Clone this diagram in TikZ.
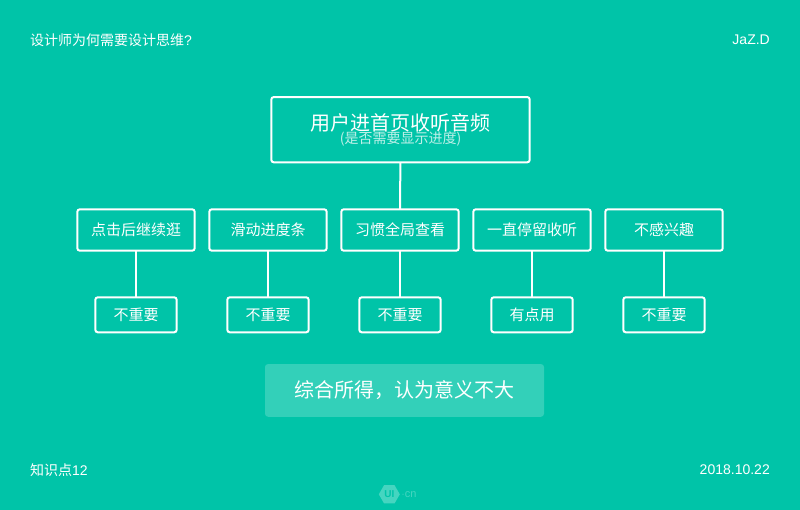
\documentclass[tikz,border=0pt]{standalone}
\usepackage{fontspec}
\setmainfont{Liberation Sans}
\newfontfamily\cjk{Noto Sans CJK SC}
\usetikzlibrary{shapes.geometric}
\definecolor{bgcol}{HTML}{00C4A8}
\definecolor{sumcol}{HTML}{33D0B9}
\definecolor{subcol}{HTML}{BFF0E9}
\definecolor{logocol}{HTML}{45D5C0}
\tikzset{
        box/.style={draw=white,line width=2pt,rounded corners=2.5pt,text=white,outer sep=0pt,inner sep=0pt},
        rowa/.style={box,minimum width=117.4pt,minimum height=41.4pt,font=\cjk\fontsize{15}{18}\selectfont},
        rowb/.style={box,minimum width=81.4pt,minimum height=35pt,font=\cjk\fontsize{15}{18}\selectfont},
        corner/.style={text=white,inner sep=0pt,font=\fontsize{14}{17}\selectfont},
        link/.style={draw=white,line width=2pt}
}

\begin{document}
\begin{tikzpicture}[x=1pt,y=-1pt]
        \useasboundingbox (0,0) rectangle (800,510);
        \fill[bgcol] (0,0) rectangle (800,510);
        \node[corner,anchor=west] (title) at (30,40) {{\cjk 设计师为何需要设计思维}?};
        \node[corner,anchor=east] (author) at (770,40) {JaZ.D};
        \node[corner,anchor=west] (topic) at (30,470) {{\cjk 知识点}12};
        \node[corner,anchor=east] (date) at (770,470) {2018.10.22};
        \node[box,minimum width=258.4pt,minimum height=65.3pt,align=center] (start) at (400.5,129.7)
                {\cjk\fontsize{20}{27}\selectfont 用户进首页收听音频\\[-1pt]
                \cjk\fontsize{14}{17}\selectfont\color{subcol}(是否需要显示进度)};
        \foreach \n/\xa/\txta/\txtb in {1/136/点击后继续逛/不重要,2/268/滑动进度条/不重要,3/400/习惯全局查看/不重要,4/532/一直停留收听/有点用,5/664/不感兴趣/不重要} {
                \node[rowa] (choice\n) at (\xa,230) {\txta};
                \node[rowb] (result\n) at (\xa,314.8) {\txtb};
                \draw[link] (choice\n) -- (result\n);
        }
        \draw[link] (start) -- (choice3);
        \node[fill=sumcol,rounded corners=3pt,text=white,minimum width=279pt,minimum height=52.7pt,inner sep=0pt,font=\cjk\fontsize{20}{24}\selectfont] (summary) at (404.5,390.4) {综合所得，认为意义不大};
        % logo
        \node[regular polygon,regular polygon sides=6,fill=logocol,minimum size=21pt,inner sep=0pt,text=bgcol,font=\bfseries\fontsize{10}{10}\selectfont] (logo) at (389.3,494.3) {UI};
        \node[right=1.5pt,text=logocol,inner sep=0pt,font=\fontsize{11}{11}\selectfont] (logotext) at (logo.east) {$\cdot$cn};
\end{tikzpicture}
\end{document}
